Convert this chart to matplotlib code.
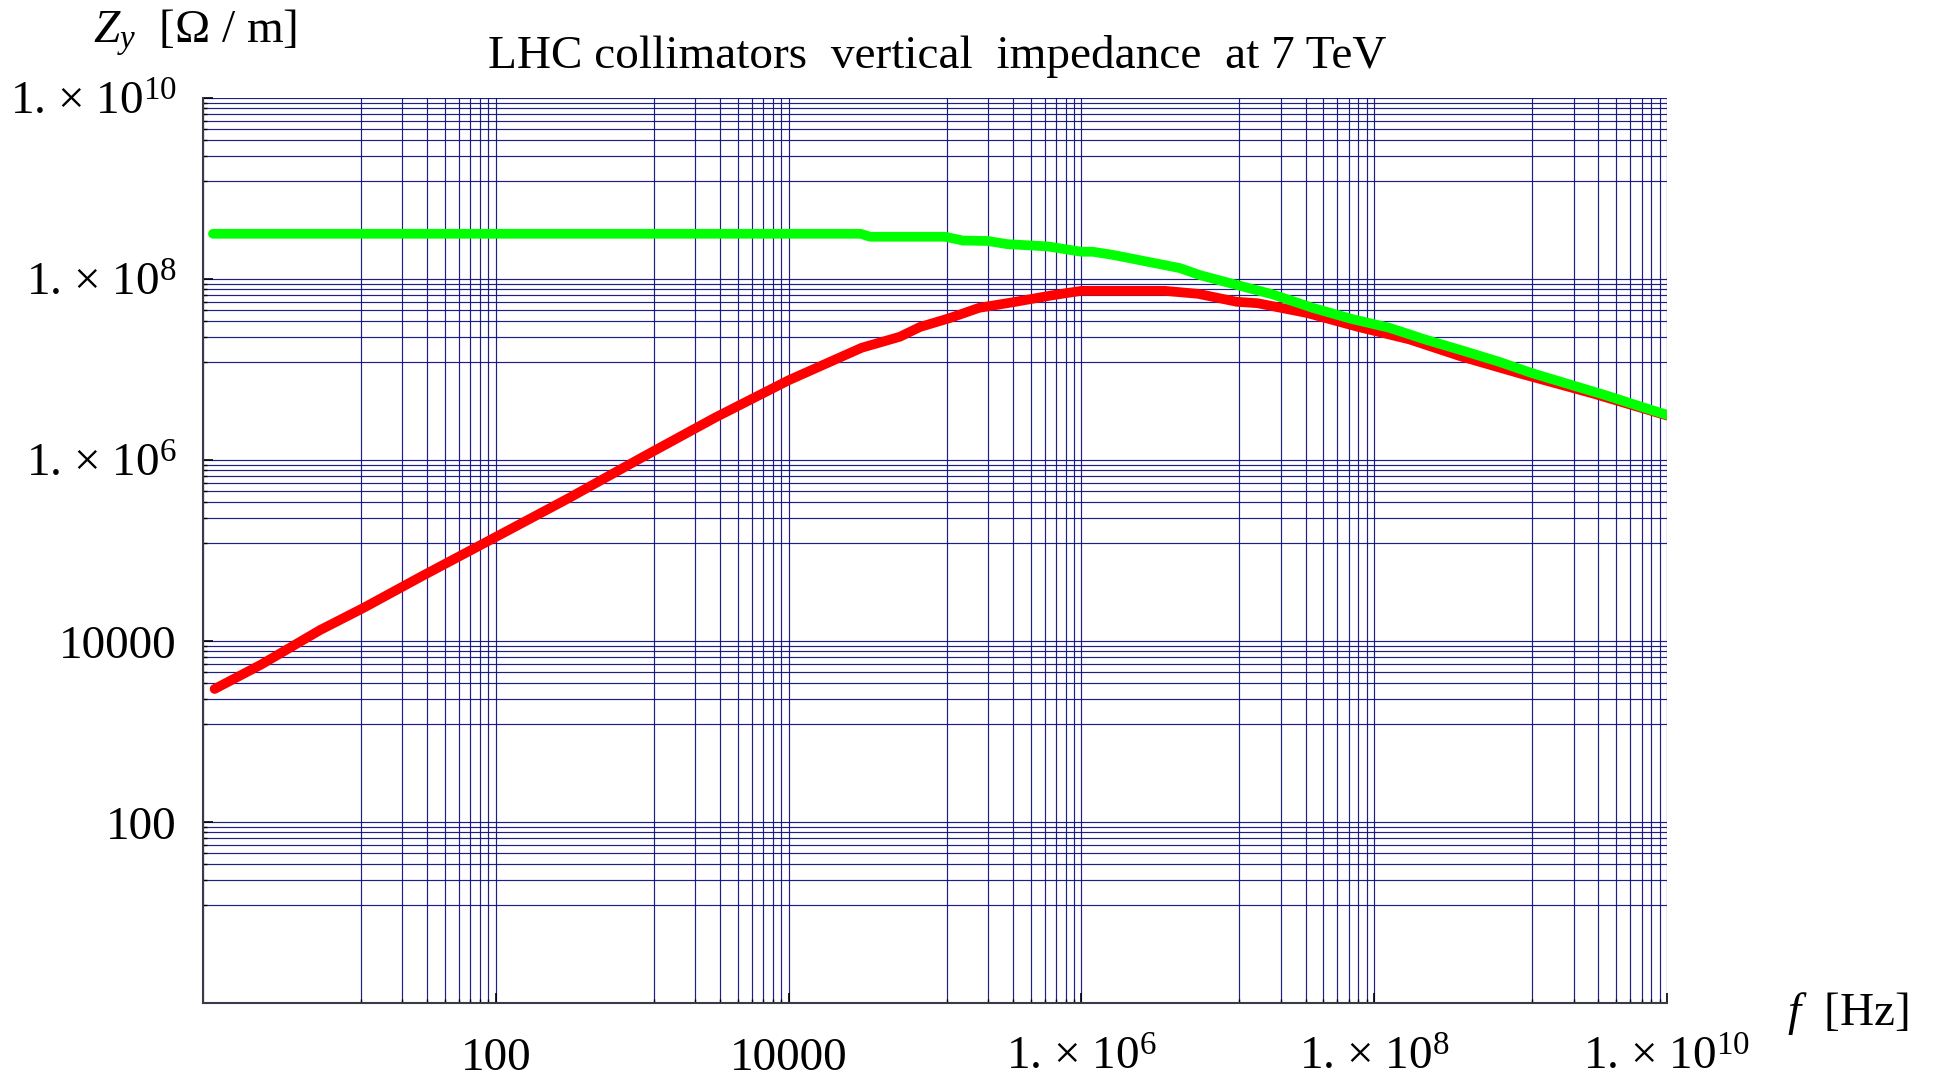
import numpy as np
import matplotlib
matplotlib.use("Agg")
import matplotlib.pyplot as plt
import matplotlib.transforms as mtransforms

plt.rcParams['font.family'] = ['Liberation Serif', 'DejaVu Serif']
plt.rcParams['mathtext.fontset'] = 'custom'
plt.rcParams['mathtext.rm'] = 'Liberation Serif'
plt.rcParams['mathtext.it'] = 'Liberation Serif:italic'
plt.rcParams['mathtext.default'] = 'regular'

# impedance curves (f in Hz, Z in Ohm/m)
f_red = [1.2, 2.5, 6.3, 12.6, 31.6, 100, 316, 1e3, 3.16e3, 1e4, 3.16e4, 5.75e4,
         7.9e4, 1.26e5, 2.0e5, 3.55e5, 6.3e5, 1e6, 3.7e6, 6.3e6, 1.15e7, 1.6e7,
         3.5e7, 7.8e7, 1.74e8, 4.0e8, 1.0e9, 3.16e9, 1e10]
z_red = [2950, 5500, 1.32e4, 2.34e4, 5.25e4, 1.41e5, 3.8e5, 1.07e6, 2.95e6,
         7.6e6, 1.74e7, 2.3e7, 2.95e7, 3.7e7, 4.8e7, 5.6e7, 6.6e7, 7.4e7, 7.4e7,
         6.85e7, 5.6e7, 5.4e7, 4.2e7, 2.95e7, 2.15e7, 1.38e7, 9.0e6, 5.4e6, 3.1e6]

f_green = [1.17, 3.1e4, 3.6e4, 1.17e5, 1.55e5, 2.3e5, 3.1e5, 5.9e5, 1.0e6, 1.2e6,
           1.66e6, 4.7e6, 6.5e6, 1.12e7, 2.0e7, 3.8e7, 7.1e7, 1.26e8, 2.24e8,
           4.0e8, 7.1e8, 1.2e9, 2.0e9, 3.8e9, 7.9e9, 1.0e10]
z_green = [3.16e8, 3.16e8, 2.93e8, 2.93e8, 2.66e8, 2.63e8, 2.43e8, 2.29e8, 2.0e8,
           2.0e8, 1.84e8, 1.32e8, 1.1e8, 8.7e7, 6.8e7, 4.8e7, 3.6e7, 2.9e7,
           2.14e7, 1.62e7, 1.22e7, 9.1e6, 7.1e6, 5.2e6, 3.55e6, 3.16e6]

major_vals = [1e2, 1e4, 1e6, 1e8, 1e10]
major_labels = ['100', '10000', '1. \u00d7 10$^{6}$', '1. \u00d7 10$^{8}$',
                '1. \u00d7 10$^{10}$']

titulo = 'LHC collimators  vertical  impedance  at 7 TeV'

# grid a la Mathematica: majors every two decades, 8 linear steps between
majors = [10.0 ** (2 * k) for k in range(6)]
minors = []
for k in range(5):
    a, b = majors[k], majors[k + 1]
    for j in range(1, 9):
        minors.append(a + (b - a) * j / 9.0)

fig = plt.figure(figsize=(19.36, 10.77), dpi=100)
ax = fig.add_axes([203 / 1936, 1 - 1003 / 1077, 1464 / 1936, 905 / 1077])
ax.set_xscale('log')
ax.set_yscale('log')
ax.set_xlim(1, 1e10)
ax.set_ylim(1, 1e10)

cor_grade = '#121280'
for v in majors + minors:
    ax.axvline(v, color=cor_grade, lw=0.85, alpha=0.95, zorder=1)
    ax.axhline(v, color=cor_grade, lw=0.85, alpha=0.95, zorder=1)

ax.plot(f_red, z_red, color='#ff0000', lw=7, solid_capstyle='round',
        solid_joinstyle='round', zorder=3)
ax.plot(f_green, z_green, color='#00ff00', lw=7, solid_capstyle='round',
        solid_joinstyle='round', zorder=4)

for eixo in (ax.xaxis, ax.yaxis):
    eixo.set_major_locator(matplotlib.ticker.FixedLocator(majors))
    eixo.set_minor_locator(matplotlib.ticker.FixedLocator(minors))
    eixo.set_major_formatter(matplotlib.ticker.NullFormatter())
    eixo.set_minor_formatter(matplotlib.ticker.NullFormatter())
ax.tick_params(which='major', direction='in', length=7, width=1.2, color='black')
ax.tick_params(which='minor', direction='in', length=3, width=1.0, color='black')
ax.tick_params(top=False, right=False)

for lado in ('top', 'right'):
    ax.spines[lado].set_visible(False)
for lado in ('left', 'bottom'):
    ax.spines[lado].set_color('#3a3a4a')
    ax.spines[lado].set_linewidth(1.5)
    ax.spines[lado].set_zorder(5)

tam = 34
desloc = mtransforms.ScaledTranslation(0, -0.17, fig.dpi_scale_trans)
for v, rot in zip(major_vals, major_labels):
    ax.text(v, -0.074, rot, transform=ax.get_xaxis_transform(), ha='center',
            va='baseline', fontsize=tam)
    ax.text(-0.018, v, rot, transform=ax.get_yaxis_transform() + desloc,
            ha='right', va='baseline', fontsize=tam)

fig.text(488 / 1936, 1 - 68 / 1077, titulo, ha='left', va='baseline', fontsize=tam)
fig.text(93 / 1936, 1 - 43 / 1077, r'$\mathit{Z}_{\mathit{y}}$  [$\Omega$ / m]',
         ha='left', va='baseline', fontsize=tam)
fig.text(1787 / 1936, 1 - 1025 / 1077, r'$\mathit{f}$  [Hz]', ha='left',
         va='baseline', fontsize=tam)

fig.savefig('out.png', dpi=100)
